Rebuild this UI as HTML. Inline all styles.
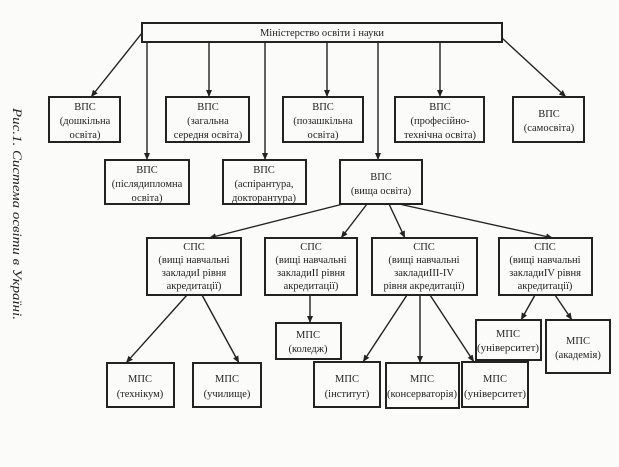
<!DOCTYPE html>
<html><head><meta charset="utf-8"><style>
html,body{margin:0;padding:0;background:#fbfbfa;}
svg{display:block;}
text{font-family:"Liberation Serif",serif;font-size:10.5px;fill:#222;}
</style></head><body>
<svg width="619" height="467" viewBox="0 0 619 467" xmlns="http://www.w3.org/2000/svg">
<defs><marker id="a" markerWidth="8" markerHeight="8" refX="7" refY="4" orient="auto" markerUnits="userSpaceOnUse"><path d="M0,1 L7,4 L0,7 Z" fill="#222"/></marker></defs>
<g stroke="#222" stroke-width="2" fill="none">
<rect x="142" y="23" width="360" height="19"/>
<rect x="49" y="97" width="71" height="45"/>
<rect x="166" y="97" width="83" height="45"/>
<rect x="283" y="97" width="80" height="45"/>
<rect x="395" y="97" width="89" height="45"/>
<rect x="513" y="97" width="71" height="45"/>
<rect x="105" y="160" width="84" height="44"/>
<rect x="223" y="160" width="83" height="44"/>
<rect x="340" y="160" width="82" height="44"/>
<rect x="147" y="238" width="94" height="57"/>
<rect x="265" y="238" width="92" height="57"/>
<rect x="372" y="238" width="105" height="57"/>
<rect x="499" y="238" width="93" height="57"/>
<rect x="107" y="363" width="67" height="44"/>
<rect x="193" y="363" width="68" height="44"/>
<rect x="276" y="323" width="65" height="36"/>
<rect x="314" y="362" width="66" height="45"/>
<rect x="386" y="363" width="73" height="45"/>
<rect x="462" y="362" width="66" height="45"/>
<rect x="476" y="320" width="65" height="40"/>
<rect x="546" y="320" width="64" height="53"/>
</g>
<g stroke="#222" stroke-width="1.4" marker-end="url(#a)">
<line x1="142" y1="33" x2="91" y2="97"/>
<line x1="502" y1="38" x2="566" y2="97"/>
<line x1="147" y1="42" x2="147" y2="160"/>
<line x1="209" y1="42" x2="209" y2="97"/>
<line x1="265" y1="42" x2="265" y2="160"/>
<line x1="327" y1="42" x2="327" y2="97"/>
<line x1="378" y1="42" x2="378" y2="160"/>
<line x1="440" y1="42" x2="440" y2="97"/>
<line x1="343" y1="204" x2="209" y2="238"/>
<line x1="367" y1="204" x2="341" y2="238"/>
<line x1="389" y1="204" x2="405" y2="238"/>
<line x1="399" y1="204" x2="553" y2="238"/>
<line x1="187" y1="295" x2="126" y2="363"/>
<line x1="202" y1="295" x2="239" y2="363"/>
<line x1="310" y1="295" x2="310" y2="323"/>
<line x1="407" y1="295" x2="363" y2="362"/>
<line x1="420" y1="295" x2="420" y2="363"/>
<line x1="430" y1="295" x2="474" y2="362"/>
<line x1="535" y1="295" x2="521" y2="320"/>
<line x1="555" y1="295" x2="572" y2="320"/>
</g>
<g text-anchor="middle">
<text x="322" y="36">Міністерство освіти і науки</text>
<text x="85" y="110">ВПС</text><text x="85" y="124">(дошкільна</text><text x="85" y="138">освіта)</text>
<text x="208" y="110">ВПС</text><text x="208" y="124">(загальна</text><text x="208" y="138">середня освіта)</text>
<text x="323" y="110">ВПС</text><text x="323" y="124">(позашкільна</text><text x="323" y="138">освіта)</text>
<text x="440" y="110">ВПС</text><text x="440" y="124">(професійно-</text><text x="440" y="138">технічна освіта)</text>
<text x="549" y="117">ВПС</text><text x="549" y="131">(самосвіта)</text>
<text x="147" y="173">ВПС</text><text x="147" y="187">(післядипломна</text><text x="147" y="201">освіта)</text>
<text x="264" y="173">ВПС</text><text x="264" y="187">(аспірантура,</text><text x="264" y="201">докторантура)</text>
<text x="381" y="180">ВПС</text><text x="381" y="194">(вища освіта)</text>
<text x="194" y="250">СПС</text><text x="194" y="263">(вищі навчальні</text><text x="194" y="276">закладиІ рівня</text><text x="194" y="289">акредитації)</text>
<text x="311" y="250">СПС</text><text x="311" y="263">(вищі навчальні</text><text x="311" y="276">закладиІІ рівня</text><text x="311" y="289">акредитації)</text>
<text x="424" y="250">СПС</text><text x="424" y="263">(вищі навчальні</text><text x="424" y="276">закладиІІІ-IV</text><text x="424" y="289">рівня акредитації)</text>
<text x="545" y="250">СПС</text><text x="545" y="263">(вищі навчальні</text><text x="545" y="276">закладиІV рівня</text><text x="545" y="289">акредитації)</text>
<text x="140" y="382">МПС</text><text x="140" y="397">(технікум)</text>
<text x="227" y="382">МПС</text><text x="227" y="397">(училище)</text>
<text x="308" y="338">МПС</text><text x="308" y="352">(коледж)</text>
<text x="347" y="382">МПС</text><text x="347" y="397">(інститут)</text>
<text x="422" y="382">МПС</text><text x="422" y="397" textLength="70" lengthAdjust="spacingAndGlyphs">(консерваторія)</text>
<text x="495" y="382">МПС</text><text x="495" y="397" textLength="62" lengthAdjust="spacingAndGlyphs">(університет)</text>
<text x="508" y="337">МПС</text><text x="508" y="351" textLength="62" lengthAdjust="spacingAndGlyphs">(університет)</text>
<text x="578" y="344">МПС</text><text x="578" y="358">(академія)</text>
</g>
<text x="0" y="0" transform="translate(13,108) rotate(90)" style="font-style:italic;font-size:12.5px" textLength="212" lengthAdjust="spacingAndGlyphs">Рис.1. Система освіти в Україні.</text>
</svg>
</body></html>
